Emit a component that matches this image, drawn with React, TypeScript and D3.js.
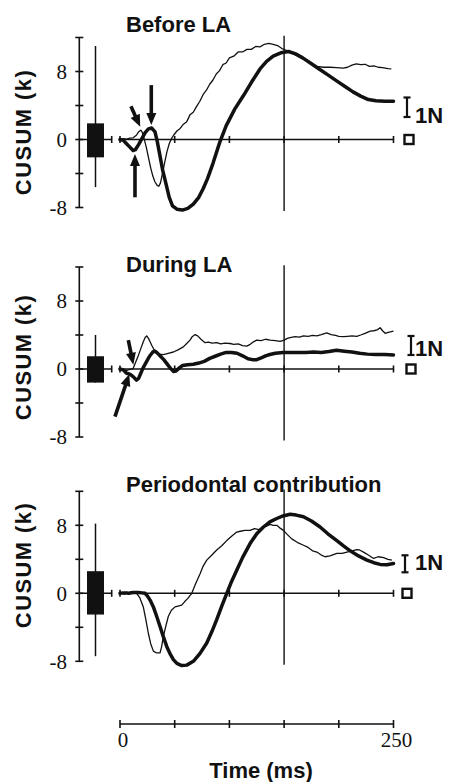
import React from "react";
import * as d3 from "d3";

// ---------- data ----------
const timeTicks = [0, 50, 100, 150, 200, 250];
const timeLabelTicks = [0, 250];
const yTicks = [-8, -4, 0, 4, 8, 12];
const yLabelTicks = [-8, 0, 8];
const panelTitles = ["Before LA", "During LA", "Periodontal contribution"];
const markerTime = 150;

type P = [number, number];

const beforeThick: P[] = [[0,0],[3,-0.1],[6,-0.5],[9,-0.9],[12,-1.3],[14,-1.2],[17,-0.6],[20,0.1],[23,0.8],[26,1.25],[29,1.35],[32,0.9],[34,-0.2],[36.5,-1.9],[39,-3.6],[42,-5.2],[45,-6.8],[48,-7.8],[52,-8.2],[57,-8.3],[62,-8.1],[67,-7.6],[72,-6.8],[76,-5.8],[80,-4.6],[85,-2.8],[91,-0.4],[97,1.6],[105,3.6],[113,5.2],[120,6.7],[128,8.3],[134,9.2],[140,9.8],[147,10.2],[154,10.35],[160,10.1],[167,9.6],[174,9.0],[182,8.3],[190,7.6],[198,6.9],[206,6.2],[213,5.6],[220,5.1],[227,4.7],[234,4.55],[242,4.5],[250,4.5]];
const beforeThin: P[] = [[0,0],[3,0.1],[6,0.05],[9,0.15],[12,0.2],[15,0.5],[17,0.9],[19,1.1],[20.5,0.8],[22,0.1],[24,-0.9],[26,-2.1],[28,-3.3],[30,-4.3],[32,-5.0],[34,-5.4],[35.5,-5.5],[37,-5.1],[39,-3.9],[41,-2.6],[43,-1.4],[45,-0.5],[47,0.1],[49,0.5],[52,1.0],[55,1.3],[58,1.8],[61,2.1],[64,2.9],[67,3.2],[70,3.9],[73,4.5],[76,5.3],[79,5.8],[82,6.5],[85,7.0],[88,7.7],[91,8.1],[94,8.8],[97,9.0],[100,9.6],[104,9.8],[108,10.3],[112,10.3],[116,10.6],[120,10.6],[124,10.95],[128,10.9],[132,11.2],[136,11.3],[140,11.2],[144,11.05],[148,10.7],[152,10.5],[156,10.2],[162,9.85],[168,9.45],[174,9.0],[180,8.6],[186,8.5],[192,8.5],[198,8.45],[204,8.4],[208,8.5],[212,8.75],[216,8.9],[220,8.8],[224,8.85],[228,8.6],[232,8.65],[236,8.5],[240,8.45],[245,8.35],[248,8.3]];

const duringThick: P[] = [[0,0],[3,-0.1],[6,-0.5],[9,-0.6],[12,-0.9],[15,-1.3],[17,-1.1],[19,-0.5],[21,0.1],[24,0.8],[27,1.5],[30,2.0],[32,2.1],[34,1.9],[37,1.5],[40,1.1],[43,0.6],[46,0.1],[49,-0.3],[51,-0.25],[54,0.1],[57,0.4],[62,0.5],[67,0.55],[72,0.7],[77,0.9],[82,1.25],[87,1.5],[92,1.75],[97,1.95],[102,1.95],[107,1.85],[112,1.55],[117,1.2],[121,1.1],[125,1.1],[129,1.3],[133,1.55],[137,1.7],[142,1.85],[149,1.95],[156,1.95],[163,1.95],[170,1.95],[177,2.0],[184,1.95],[191,2.05],[198,2.2],[205,2.1],[212,2.0],[219,1.85],[226,1.75],[234,1.7],[242,1.7],[250,1.65]];
const duringThin: P[] = [[0,0],[3,-0.1],[6,-0.15],[9,-0.05],[12,0.05],[14,0.7],[16.8,1.6],[19,2.4],[21.3,3.2],[23,3.7],[24.4,3.9],[26,3.6],[27.5,3.2],[29,2.8],[31,2.3],[33.5,1.85],[36,1.75],[39.6,1.7],[44,1.85],[48.8,2.0],[53,2.25],[57.9,2.6],[61,3.0],[64,3.4],[66,3.8],[68.6,4.05],[71,3.9],[74,3.5],[77.7,3.1],[81,3.15],[84,3.05],[88.4,3.1],[92,2.95],[96,3.05],[100.6,3.0],[104,2.9],[108,2.95],[112,2.75],[115.9,2.7],[119,2.9],[122,3.2],[125,3.4],[129,3.35],[133,3.5],[137.2,3.4],[142,3.35],[146.4,3.25],[150,3.4],[153,3.6],[155.5,3.7],[160,3.8],[164,3.75],[167.7,3.9],[172,3.85],[176,3.95],[179.9,3.9],[184,4.05],[189,4.25],[193,4.05],[197,3.95],[200,3.85],[204.3,3.8],[208,3.85],[212,3.9],[216.5,3.85],[220,4.0],[224,4.2],[228.7,4.45],[232,4.5],[235,4.6],[237.8,4.85],[240,4.5],[242.4,4.2],[246,4.35],[250,4.45]];

const perioThick: P[] = [[0,0],[4,0.05],[8,0.0],[12,0.1],[16.8,0.1],[20,0.05],[22.9,0],[25,-0.3],[27.5,-0.8],[30.5,-1.6],[33.5,-2.7],[36.6,-3.9],[39.6,-5.1],[42.7,-6.25],[45.7,-7.1],[48.8,-7.8],[52,-8.25],[56.4,-8.5],[61,-8.45],[67,-8.0],[73,-7.1],[79.3,-5.85],[84,-4.5],[88.4,-3.1],[93,-1.5],[97.6,0],[102,1.4],[106.7,2.7],[112,4.2],[118.9,5.85],[125,7.0],[131.1,7.8],[137,8.4],[143.3,8.8],[149,9.1],[155.5,9.3],[161,9.2],[167.7,9.0],[175,8.5],[182.9,7.8],[190,7.0],[198.2,6.2],[204,5.6],[210.4,5.0],[218,4.4],[225.7,3.9],[232,3.6],[237.8,3.4],[244,3.35],[250,3.5]];
const perioThin: P[] = [[0,0],[2,0.1],[4,-0.1],[6,0.15],[8,0.0],[10,0.15],[12,0.05],[15.2,0],[18,-0.5],[21.3,-1.6],[23.5,-3.0],[25.9,-4.7],[28,-5.9],[30.5,-6.8],[33,-7.0],[36.6,-7.0],[38,-6.3],[39.6,-5.1],[42,-3.8],[44.2,-2.7],[47,-2.0],[50.3,-1.6],[53,-1.5],[56.4,-1.4],[59,-1.0],[62,-0.6],[65.6,0],[69,1.1],[73.2,2.3],[76,3.2],[79.3,3.9],[84,4.5],[88.4,5.1],[93,5.6],[97.6,6.2],[102,6.7],[106.7,7.2],[110,7.3],[114,7.4],[118.9,7.4],[123,7.6],[127,7.5],[131.1,7.8],[134,7.9],[137.2,8.1],[140,8.0],[143.3,8.0],[146,7.7],[149.4,7.4],[153,6.9],[157,6.4],[162,6.0],[167.7,5.65],[172,5.4],[176,5.0],[179.9,4.85],[184,4.5],[187.5,4.3],[192,4.4],[198.2,4.7],[203,4.7],[207.4,4.85],[212,5.0],[216.5,5.15],[219,5.1],[222.6,4.85],[227,4.5],[231.8,4.1],[236,4.3],[241,4.2],[245,4.0],[248.5,3.9]];

// box plots: [boxTop, boxBottom, whiskerTop, whiskerBottom]
const beforeBox = [1.9, -2.1, 11.0, -5.6];
const duringBox = [1.5, -1.6, 4.0, -1.6];
const perioBox = [2.6, -2.5, 8.2, -7.4];

// annotation arrows: [t0, v0, t1, v1]
const beforeArrows = [[10, 3.9, 18.5, 1.5], [28.6, 6.4, 28.6, 1.7], [13.7, -6.8, 13.7, -1.7]];
const duringArrows = [[7.6, 3.4, 12.2, 0.5], [-4.6, -5.6, 8.5, -0.6]];
const perioArrows: number[][] = [];

// ---------- layout ----------
const SANS = "'Liberation Sans', Arial, Helvetica, sans-serif";
const SERIF = "'Liberation Serif', 'Times New Roman', serif";
const W = 454, H = 782;
const pxPerK = 8.5;
const yAxisX = 79.3;
const panelLayout = [
  { zero: 139.5, titleY: 31.7, labelY: 132, barX: 407, barTop: -42, barBot: -22.5, nY: -17, sqX: 409 },
  { zero: 369, titleY: 271.8, labelY: 357, barX: 411, barTop: -33, barBot: -14, nY: -13, sqX: 411 },
  { zero: 593.3, titleY: 491.5, labelY: 565, barX: 405, barTop: -38, barBot: -21, nY: -23, sqX: 407 },
];
const panelData = [
  { thick: beforeThick, thin: beforeThin, box: beforeBox, arrows: beforeArrows },
  { thick: duringThick, thin: duringThin, box: duringBox, arrows: duringArrows },
  { thick: perioThick, thin: perioThin, box: perioBox, arrows: perioArrows },
];

const x = d3.scaleLinear().domain([0, 250]).range([120, 393.5]);

function Arrow({ x0, y0, x1, y1 }: { x0: number; y0: number; x1: number; y1: number }) {
  const dx = x1 - x0, dy = y1 - y0;
  const len = Math.hypot(dx, dy);
  const ux = dx / len, uy = dy / len;
  const hl = 12, hw = 5;
  const bx = x1 - ux * hl, by = y1 - uy * hl;
  const px = -uy, py = ux;
  const head = `M${x1},${y1}L${bx + px * hw},${by + py * hw}L${bx - px * hw},${by - py * hw}Z`;
  return (
    <g>
      <line x1={x0} y1={y0} x2={bx + ux * 2} y2={by + uy * 2} stroke="#111" strokeWidth={3.6} />
      <path d={head} fill="#111" />
    </g>
  );
}

function Panel({ i }: { i: number }) {
  const L = panelLayout[i];
  const D = panelData[i];
  const y = d3.scaleLinear().domain([0, 1]).range([L.zero, L.zero - pxPerK]);
  const line = d3.line<P>().x((d) => x(d[0])).y((d) => y(d[1])).curve(d3.curveLinear);
  const [bt, bb, wt, wb] = D.box;
  const boxX = 87, boxW = 17, boxC = 95.5;
  const stubEnd = 111.7;
  return (
    <g>
      <text x={126} y={L.titleY} fontFamily={SANS} fontWeight="bold" fontSize={22} fill="#111">
        {panelTitles[i]}
      </text>
      <text
        transform={`translate(23,${L.labelY}) rotate(-90)`}
        textAnchor="middle"
        dominantBaseline="central"
        fontFamily={SANS}
        fontWeight="bold"
        fontSize={22}
        letterSpacing={1.4}
        fill="#111"
      >
        CUSUM (k)
      </text>
      {/* y axis */}
      <line x1={yAxisX} x2={yAxisX} y1={y(12)} y2={y(-8)} stroke="#111" strokeWidth={1.6} />
      {yTicks.map((t) => (
        <line key={t} x1={yAxisX - 4} x2={yAxisX + 4} y1={y(t)} y2={y(t)} stroke="#111" strokeWidth={1.6} />
      ))}
      {yLabelTicks.map((t) => (
        <text key={t} x={67} y={y(t)} dy="0.35em" textAnchor="end" fontFamily={SERIF} fontSize={21} fill="#111">
          {t}
        </text>
      ))}
      {/* zero stub with box plot */}
      <line x1={yAxisX} x2={stubEnd} y1={y(0)} y2={y(0)} stroke="#111" strokeWidth={1.6} />
      <line x1={stubEnd} x2={stubEnd} y1={y(0) - 3.5} y2={y(0) + 3.5} stroke="#111" strokeWidth={1.6} />
      <line x1={boxC} x2={boxC} y1={y(wt)} y2={y(wb)} stroke="#111" strokeWidth={1.5} />
      <rect x={boxX} width={boxW} y={y(bt)} height={y(bb) - y(bt)} fill="#111" />
      {/* inner time axis */}
      <line x1={x(0)} x2={x(250)} y1={y(0)} y2={y(0)} stroke="#111" strokeWidth={1.6} />
      {timeTicks.map((t) => (
        <line key={t} x1={x(t)} x2={x(t)} y1={y(0) - 3.5} y2={y(0) + 3.5} stroke="#111" strokeWidth={1.6} />
      ))}
      <line x1={x(markerTime)} x2={x(markerTime)} y1={y(12.2)} y2={y(-8.4)} stroke="#111" strokeWidth={1.4} />
      {/* curves */}
      <path d={line(D.thin) || ""} fill="none" stroke="#111" strokeWidth={1.3} strokeLinejoin="round" />
      <path d={line(D.thick) || ""} fill="none" stroke="#111" strokeWidth={3.5} strokeLinejoin="round" strokeLinecap="round" />
      {/* arrows */}
      {D.arrows.map((a, k) => (
        <Arrow key={k} x0={x(a[0])} y0={y(a[1])} x1={x(a[2])} y1={y(a[3])} />
      ))}
      {/* scale bar 1N */}
      <line x1={L.barX} x2={L.barX} y1={L.zero + L.barTop} y2={L.zero + L.barBot} stroke="#111" strokeWidth={2.2} />
      <line x1={L.barX - 3.5} x2={L.barX + 3.5} y1={L.zero + L.barTop} y2={L.zero + L.barTop} stroke="#111" strokeWidth={2.2} />
      <line x1={L.barX - 3.5} x2={L.barX + 3.5} y1={L.zero + L.barBot} y2={L.zero + L.barBot} stroke="#111" strokeWidth={2.2} />
      <text x={415} y={L.zero + L.nY} fontFamily={SANS} fontWeight="bold" fontSize={22} fill="#111">
        1N
      </text>
      <rect x={L.sqX - 4.5} y={L.zero - 4.5} width={9} height={9} fill="#fff" stroke="#111" strokeWidth={2.4} />
    </g>
  );
}

export default function App() {
  const axisY = 724;
  return (
    <div style={{ position: "absolute", left: 0, top: 0, width: W, height: H, background: "#fff" }}>
      <svg width={W} height={H} viewBox={`0 0 ${W} ${H}`} style={{ display: "block" }}>
        <rect width={W} height={H} fill="#fff" />
        {panelLayout.map((_, i) => (
          <Panel key={i} i={i} />
        ))}
        {/* bottom time axis */}
        <line x1={x(0)} x2={x(250)} y1={axisY} y2={axisY} stroke="#111" strokeWidth={1.6} />
        {timeTicks.map((t) => (
          <line key={t} x1={x(t)} x2={x(t)} y1={axisY - 4} y2={axisY + 4} stroke="#111" strokeWidth={1.6} />
        ))}
        {timeLabelTicks.map((t) => (
          <text key={t} x={x(t) + 3} y={747} textAnchor="middle" fontFamily={SERIF} fontSize={21} fill="#111">
            {t}
          </text>
        ))}
        <text x={261} y={778} textAnchor="middle" fontFamily={SANS} fontWeight="bold" fontSize={22} fill="#111">
          Time (ms)
        </text>
      </svg>
    </div>
  );
}
